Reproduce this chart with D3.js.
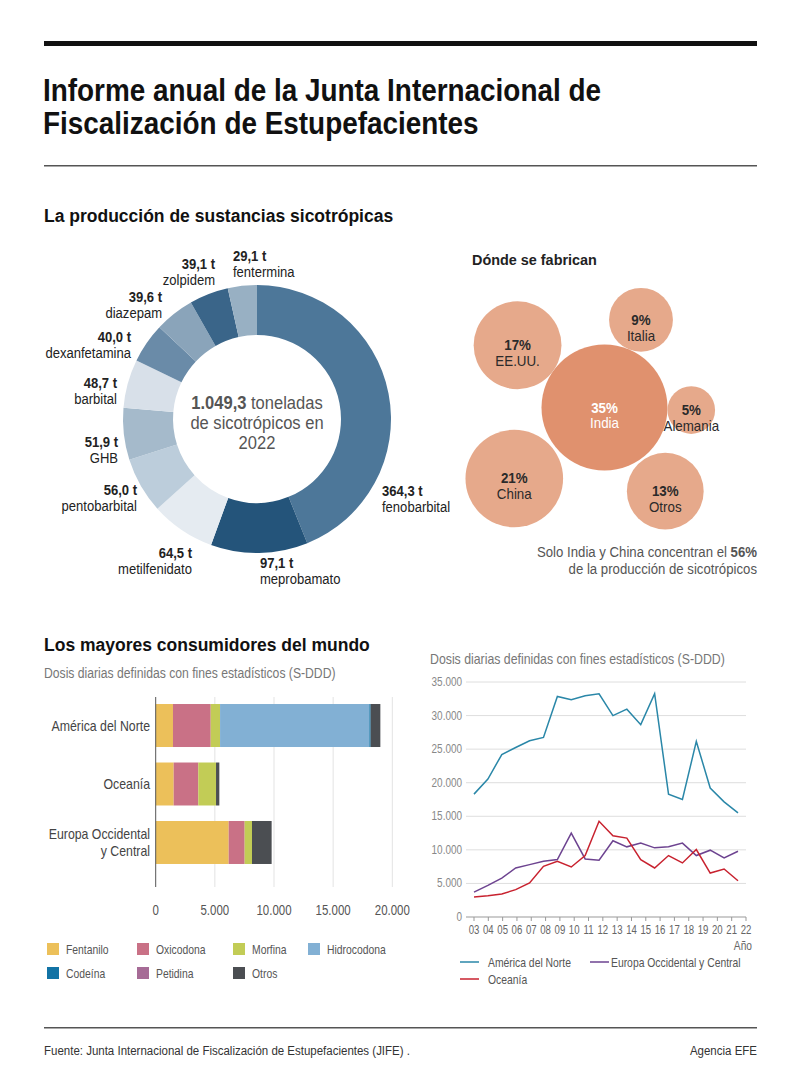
<!DOCTYPE html>
<html><head><meta charset="utf-8">
<script src="https://cdn.jsdelivr.net/npm/d3@7"></script>
<style>body{margin:0;background:#fff}svg{display:block}</style>
</head><body><svg id="c" width="800" height="1087"></svg>
<script>
// ---------- DATA ----------
const substances = ["fenobarbital","meprobamato","metilfenidato","pentobarbital","GHB","barbital","dexanfetamina","diazepam","zolpidem","fentermina"];
const tonnes = [364.3,97.1,64.5,56.0,51.9,48.7,40.0,39.6,39.1,29.1];
const totalTonnes = "1.049,3";

const countries = ["India","EE.UU.","Italia","Alemania","Otros","China"];
const shares = [35,17,9,5,13,21];

const regions = ["América del Norte","Oceanía","Europa Occidental y Central"];
const drugs = ["Fentanilo","Oxicodona","Morfina","Hidrocodona","Codeína","Petidina","Otros"];
const fentanilo   = [1460, 1520, 6170];
const oxicodona   = [3190, 2080, 1350];
const morfina     = [790, 1500, 620];
const hidrocodona = [12620, 0, 0];
const codeina     = [110, 0, 0];
const petidina    = [0, 0, 0];
const otros       = [820, 280, 1660];
const barTicks = [0, 5000, 10000, 15000, 20000];

const years = ["03","04","05","06","07","08","09","10","11","12","13","14","15","16","17","18","19","20","21","22"];
const america = [18300,20550,24200,25250,26250,26750,32850,32350,32950,33250,30000,30950,28650,33250,18300,17500,26150,19200,17150,15500];
const europa  = [3700,4700,5800,7300,7800,8300,8550,12500,8650,8450,11350,10450,11000,10300,10450,11000,9150,9950,8800,9800];
const oceania = [2980,3180,3430,4070,5070,7550,8300,7450,9150,14250,12100,11750,8550,7300,9150,8050,10050,6550,7150,5400];
const lineTicks = [0,5000,10000,15000,20000,25000,30000,35000];

// ---------- STYLE / LAYOUT ----------
const F = "'Liberation Sans Narrow','Arial Narrow','Liberation Sans',Arial,sans-serif";
const svg = d3.select("#c").style("font-family", F);
const fmt = d3.formatLocale({decimal:",", thousands:".", grouping:[3], currency:["","€"]});
const fmtInt = fmt.format(",d");

// text helper: condensed look via horizontal scale
function txt(x, y, s, o={}) {
  const sx = o.sx || 0.88;
  const t = svg.append("text").attr("transform", `translate(${x},${y}) scale(${sx},1)`).text(s)
    .attr("font-size", o.size || 14).attr("fill", o.fill || "#333")
    .attr("font-weight", o.weight || "normal")
    .attr("text-anchor", o.anchor || "start");
  return t;
}

// header
svg.append("rect").attr("x",44).attr("y",41).attr("width",713).attr("height",5).attr("fill","#111");
txt(43, 101, "Informe anual de la Junta Internacional de", {size:31, weight:"bold", fill:"#111", sx:0.9});
txt(43, 134, "Fiscalización de Estupefacientes", {size:31, weight:"bold", fill:"#111", sx:0.9});
svg.append("rect").attr("x",44).attr("y",165).attr("width",713).attr("height",1.5).attr("fill","#555");

// ---------- DONUT ----------
txt(44, 222, "La producción de sustancias sicotrópicas", {size:17.5, weight:"bold", fill:"#111", sx:1});
const donutColors = ["#4d7799","#24547a","#e5ebf1","#bccddb","#a5bacb","#d8e0e9","#6a8ba8","#8aa4ba","#3a6589","#98b0c3"];
const cx = 257, cy = 419;
const pie = d3.pie().sort(null).value(d => d.v);
const donutData = substances.map((s,i) => ({name:s, v:tonnes[i], color:donutColors[i]}));
const arc = d3.arc().innerRadius(84).outerRadius(134);
const gD = svg.append("g").attr("transform", `translate(${cx},${cy})`);
gD.selectAll("path").data(pie(donutData)).join("path")
  .attr("d", arc).attr("fill", d => d.data.color);

// label placement (annotation layout)
const donutLabelPos = {
  fenobarbital:[382,496,"start"], meprobamato:[260,568,"start"], metilfenidato:[192,558,"end"],
  pentobarbital:[137,495,"end"], GHB:[118,447,"end"], barbital:[117,388,"end"],
  dexanfetamina:[131,342,"end"], diazepam:[162,302,"end"], zolpidem:[215,269,"end"], fentermina:[233,261,"start"]
};
donutData.forEach(d => {
  const [x,y,a] = donutLabelPos[d.name];
  const t = txt(x, y, "", {size:14.5, anchor:a, fill:"#222", sx:0.9});
  t.append("tspan").attr("x",0).attr("font-weight","bold").text(d3.format(".1f")(d.v).replace(".",",") + " t");
  t.append("tspan").attr("x",0).attr("dy",16).text(d.name);
});
// centre text: one text element, three lines
const ct = svg.append("text").attr("transform", `translate(${cx},409) scale(0.945,1)`).attr("text-anchor","middle")
  .attr("font-size", 17.5).attr("fill","#555");
ct.append("tspan").attr("x",0).attr("font-weight","bold").text(totalTonnes);
ct.append("tspan").text(" toneladas");
ct.append("tspan").attr("x",0).attr("dy",20.5).text("de sicotrópicos en");
ct.append("tspan").attr("x",0).attr("dy",20).text("2022");

// ---------- BUBBLES ----------
txt(472, 265, "Dónde se fabrican", {size:15.5, weight:"bold", fill:"#222", sx:0.93});
const r = d3.scaleSqrt().domain([0, 35]).range([0, 63]);
const hub = {x:604.5, y:407.5};
// satellites arranged around India: direction (deg) and gap
const bubbleLayout = {"EE.UU.":[-144.4,0], "Italia":[-67.4,0], "Alemania":[1.7,0], "Otros":[54,2], "China":[141.8,3]};
const bubbles = countries.map((c,i) => {
  const rr = r(shares[i]);
  if (i === 0) return {c, v:shares[i], r:rr, x:hub.x, y:hub.y};
  const [ang, gap] = bubbleLayout[c];
  const dist = r(shares[0]) + rr + gap, a = ang*Math.PI/180;
  return {c, v:shares[i], r:rr, x:hub.x + dist*Math.cos(a), y:hub.y + dist*Math.sin(a)};
});
const gB = svg.append("g");
gB.selectAll("circle").data(bubbles).join("circle")
  .attr("cx", d => d.x).attr("cy", d => d.y).attr("r", d => d.r)
  .attr("fill", (d,i) => i === 0 ? "#e0916e" : "#e6a98b");
bubbles.forEach((d,i) => {
  const col = i === 0 ? "#fff" : "#2a2a2a";
  const t = txt(d.x, d.y+5, "", {size:14.5, anchor:"middle", fill:col, sx:0.92});
  t.append("tspan").attr("x",0).attr("font-weight","bold").text(d.v + "%");
  t.append("tspan").attr("x",0).attr("dy",16).text(d.c);
});
const note = svg.append("text").attr("transform","translate(757,557) scale(0.91,1)").attr("text-anchor","end").attr("font-size",14.5).attr("fill","#555");
note.append("tspan").text("Solo India y China concentran el ");
note.append("tspan").attr("font-weight","bold").text("56%");
txt(757, 574, "de la producción de sicotrópicos", {size:14.5, anchor:"end", fill:"#555", sx:0.91});

// ---------- STACKED BARS ----------
txt(44, 651, "Los mayores consumidores del mundo", {size:17.5, weight:"bold", fill:"#111", sx:1});
txt(44, 678, "Dosis diarias definidas con fines estadísticos (S-DDD)", {size:14, fill:"#777", sx:0.87});
const drugColors = ["#ecc05a","#c97186","#c2cc56","#82b0d4","#1273a5","#a66b96","#4b4e52"];
const series = [fentanilo, oxicodona, morfina, hidrocodona, codeina, petidina, otros];
const rows = regions.map((reg,i) => { const o = {reg}; drugs.forEach((d,j) => o[d] = series[j][i]); return o; });
const stack = d3.stack().keys(drugs)(rows);
const x = d3.scaleLinear().domain([0, 20000]).range([155.7, 392.3]);
const y = d3.scaleBand().domain(regions).range([697, 871]).paddingInner(0.265).paddingOuter(0.12);
const gBar = svg.append("g");
gBar.selectAll("line.g").data(barTicks.slice(1)).join("line")
  .attr("x1", d => x(d)).attr("x2", d => x(d)).attr("y1", 697).attr("y2", 887)
  .attr("stroke", "#e3e3e3").attr("stroke-width", 1);
stack.forEach((s,j) => {
  gBar.append("g").attr("fill", drugColors[j]).selectAll("rect").data(s).join("rect")
    .attr("x", d => x(d[0])).attr("width", d => Math.max(0, x(d[1]) - x(d[0])))
    .attr("y", d => y(d.data.reg)).attr("height", y.bandwidth());
});
gBar.append("line").attr("x1", x(0)).attr("x2", x(0)).attr("y1", 697).attr("y2", 887).attr("stroke","#555").attr("stroke-width",1);
barTicks.forEach(t => txt(x(t), 915, t === 0 ? "0" : fmtInt(t), {size:14, anchor:"middle", fill:"#555", sx:0.82}));
regions.forEach(reg => {
  const mid = y(reg) + y.bandwidth()/2;
  if (reg === "Europa Occidental y Central") {
    const t = txt(150, mid - 3, "", {size:14, anchor:"end", fill:"#444"});
    t.append("tspan").attr("x",0).text("Europa Occidental");
    t.append("tspan").attr("x",0).attr("dy",17).text("y Central");
  } else txt(150, mid + 5, reg, {size:14, anchor:"end", fill:"#444"});
});
// legend
const legCols = [47, 137, 233, 308];
drugs.forEach((d,i) => {
  const col = i < 4 ? i : i - 4, row = i < 4 ? 0 : 1;
  const lx = legCols[col], ly = 943 + row*24;
  svg.append("rect").attr("x", lx).attr("y", ly).attr("width", 12).attr("height", 12).attr("fill", drugColors[i]);
  txt(lx + 19, ly + 11, d, {size:12.5, fill:"#555", sx:0.83});
});

// ---------- LINE CHART ----------
txt(430, 664, "Dosis diarias definidas con fines estadísticos (S-DDD)", {size:14, fill:"#777", sx:0.88});
const yL = d3.scaleLinear().domain([0, 35000]).range([917, 682]);
const xTick = d3.scalePoint().domain(years).range([474, 746]);       // year labels
const xPt = d3.scaleLinear().domain([0, years.length - 1]).range([474, 738]); // data points
const gL = svg.append("g");
lineTicks.forEach(t => {
  if (t > 0) gL.append("line").attr("x1", 466).attr("x2", 746).attr("y1", yL(t)).attr("y2", yL(t)).attr("stroke","#dedede");
  txt(462, yL(t) + 4, t === 0 ? "0" : fmtInt(t), {size:12, anchor:"end", fill:"#888", sx:0.83});
});
gL.append("line").attr("x1", 466).attr("x2", 746).attr("y1", yL(0)).attr("y2", yL(0)).attr("stroke","#999");
years.forEach(yr => {
  gL.append("line").attr("x1", xTick(yr)).attr("x2", xTick(yr)).attr("y1", yL(0)).attr("y2", yL(0)+4).attr("stroke","#999");
  txt(xTick(yr), 934, yr, {size:12, anchor:"middle", fill:"#666", sx:0.8});
});
txt(752, 950, "Año", {size:12, anchor:"end", fill:"#666", sx:0.85});
const lineSeries = [{k:"América del Norte", v:america, c:"#2a87a8"}, {k:"Europa Occidental y Central", v:europa, c:"#6d4390"}, {k:"Oceanía", v:oceania, c:"#c8222f"}];
const line = d3.line().x((d,i) => xPt(i)).y(d => yL(d));
lineSeries.forEach(s => gL.append("path").attr("d", line(s.v)).attr("fill","none").attr("stroke", s.c).attr("stroke-width", 1.5));
const legPos = [[460, 962], [590, 962], [460, 979]];
lineSeries.forEach((s,i) => {
  const [lx, ly] = legPos[i];
  svg.append("line").attr("x1", lx).attr("x2", lx + 19).attr("y1", ly).attr("y2", ly).attr("stroke", s.c).attr("stroke-width", 1.5);
  txt(lx + (i===1 ? 21 : 28), ly + 5, s.k, {size:12.5, fill:"#555", sx:0.83});
});

// ---------- FOOTER ----------
svg.append("rect").attr("x",44).attr("y",1027).attr("width",713).attr("height",1.5).attr("fill","#555");
txt(44, 1055, "Fuente: Junta Internacional de Fiscalización de Estupefacientes (JIFE) .", {size:12.5, fill:"#333", sx:0.92});
txt(757, 1055, "Agencia EFE", {size:12.5, anchor:"end", fill:"#333", sx:0.92});
</script></body></html>
